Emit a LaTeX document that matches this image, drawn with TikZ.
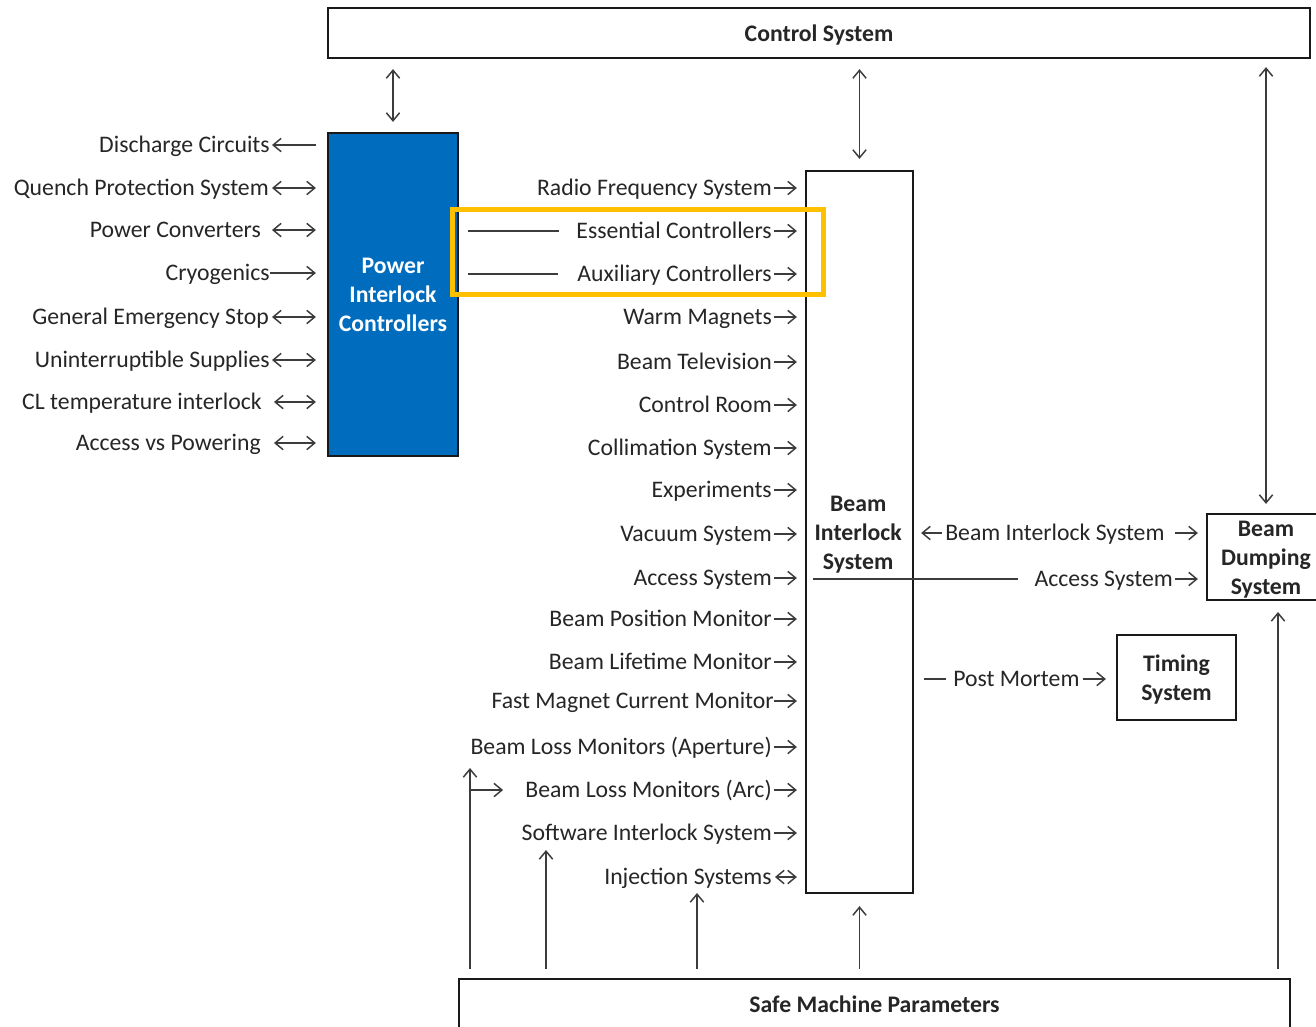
\documentclass[tikz,border=0pt]{standalone}
\usepackage{fontspec}
\setmainfont{Carlito}
\usetikzlibrary{arrows.meta}
\definecolor{ink}{RGB}{38,38,38}
\definecolor{wire}{RGB}{60,60,60}
\definecolor{boxline}{RGB}{25,25,25}
\definecolor{picblue}{RGB}{0,108,190}
\definecolor{hl}{RGB}{255,192,0}
\begin{document}
\begin{tikzpicture}[x=0.75pt,y=-0.75pt,
  font=\fontsize{17.8}{21.75}\selectfont,
  >={Straight Barb[length=6pt,width=10pt]},
  lbl/.style={anchor=east,inner sep=0pt,text height=12pt,text depth=1.5pt,text=ink},
  lblw/.style={lbl,anchor=west},
  conn/.style={draw=wire,line width=1.1pt},
  box/.style={draw=boxline,line width=1.7pt,inner sep=0pt},
  boxtext/.style={inner sep=0pt,align=center,font=\fontsize{17.8}{21.75}\selectfont\bfseries,text=ink}]
\clip (0,0) rectangle (1316,1026);
\fill[white] (0,0) rectangle (1316,1026);

% boxes
\node[box,minimum width=736.5pt,minimum height=37.5pt] (cs) at (819,33) {};
\node[boxtext] (cst) at ([yshift=-1.5pt]cs.center) {Control System};
\node[box,fill=picblue,minimum width=97.5pt,minimum height=242.25pt] (pic) at (393,294.5) {};
\node[boxtext,text=white] (pict) at (pic.center) {Power\\Interlock\\Controllers};
\node[box,minimum width=80.25pt,minimum height=541.5pt] (bis) at (859.5,532) {};
\node[boxtext] (bist) at ([xshift=-1pt,yshift=-2.25pt]bis.center) {Beam\\Interlock\\System};
\node[box,minimum width=88.5pt,minimum height=64.5pt] (bds) at (1266,557) {};
\node[boxtext] (bdst) at ([yshift=-2.25pt]bds.center) {Beam\\Dumping\\System};
\node[box,minimum width=89.25pt,minimum height=63.75pt] (ts) at (1176.5,677.5) {};
\node[boxtext] (tst) at ([yshift=-1.5pt]ts.center) {Timing\\System};
\node[box,minimum width=623.25pt,minimum height=37.5pt] (smp) at (874.5,1004) {};
\node[boxtext] (smpt) at (smp.center) {Safe Machine Parameters};

% control system links
\draw[conn,<->,shorten <=7.5pt,shorten >=7.5pt] (cs.south -| pic.north) -- (pic.north);
\draw[conn,<->,shorten <=7.5pt,shorten >=8.25pt] (cs.south -| bis.north) -- (bis.north);
\draw[conn,<->,shorten <=6pt,shorten >=6.75pt] (cs.south -| bds.north) -- (bds.north);

% left labels (power interlock)
\node[lbl] (dc) at (270,145) {Discharge Circuits};
\node[lbl] (qps) at (269,188) {Quench Protection System};
\node[lbl] (pc) at (261,230) {Power Converters};
\node[lbl] (cryo) at (270,273) {Cryogenics};
\node[lbl] (ges) at (269,317) {General Emergency Stop};
\node[lbl] (ups) at (270,360) {Uninterruptible Supplies};
\node[lbl] (clt) at (262,402) {CL temperature interlock};
\node[lbl] (avp) at (261,443) {Access vs Powering};
\draw[conn,<-,shorten <=1.5pt,shorten >=8.25pt] (dc.east) -- (dc.east -| pic.west);
\draw[conn,<->,shorten <=2.25pt,shorten >=8.25pt] (qps.east) -- (qps.east -| pic.west);
\draw[conn,<->,shorten <=8.25pt,shorten >=8.25pt] (pc.east) -- (pc.east -| pic.west);
\draw[conn,->,shorten >=8.25pt] (cryo.east) -- (cryo.east -| pic.west);
\draw[conn,<->,shorten <=2.25pt,shorten >=8.25pt] (ges.east) -- (ges.east -| pic.west);
\draw[conn,<->,shorten <=1.5pt,shorten >=8.25pt] (ups.east) -- (ups.east -| pic.west);
\draw[conn,<->,shorten <=9pt,shorten >=8.25pt] (clt.east) -- (clt.east -| pic.west);
\draw[conn,<->,shorten <=9.75pt,shorten >=8.25pt] (avp.east) -- (avp.east -| pic.west);

% middle labels (beam interlock inputs)
\node[lbl] (rf) at (772,188) {Radio Frequency System};
\node[lbl] (ec) at (772,231) {Essential Controllers};
\node[lbl] (ac) at (772,274) {Auxiliary Controllers};
\node[lbl] (wm) at (772,317) {Warm Magnets};
\node[lbl] (btv) at (772,362) {Beam Television};
\node[lbl] (cr) at (772,405) {Control Room};
\node[lbl] (col) at (772,448) {Collimation System};
\node[lbl] (exp) at (772,490) {Experiments};
\node[lbl] (vac) at (772,534) {Vacuum System};
\node[lbl] (acc) at (772,578) {Access System};
\node[lbl] (bpm) at (772,619) {Beam Position Monitor};
\node[lbl] (blt) at (772,662) {Beam Lifetime Monitor};
\node[lbl] (fmc) at (774,701) {Fast Magnet Current Monitor};
\node[lbl] (blmap) at (772,747) {Beam Loss Monitors (Aperture)};
\node[lbl] (blmarc) at (772,790) {Beam Loss Monitors (Arc)};
\node[lbl] (sis) at (772,833) {Software Interlock System};
\node[lbl] (inj) at (772,877) {Injection Systems};
\foreach \n in {rf,ec,ac,wm,btv,cr,col,exp,vac,acc,bpm,blt,blmap,blmarc,sis}
  \draw[conn,->,shorten <=1.5pt,shorten >=6pt] (\n.east) -- (\n.east -| bis.west);
\draw[conn,->,shorten <=0pt,shorten >=6pt] (fmc.east) -- (fmc.east -| bis.west);
\draw[conn,<->,shorten <=2.25pt,shorten >=6pt] (inj.east) -- (inj.east -| bis.west);

% controller feed lines and highlight
\coordinate (ecl) at (468,231);
\coordinate (acl) at (468,274);
\draw[conn,shorten >=12.75pt] (ecl) -- (ec.west);
\draw[conn,shorten >=14.25pt] (acl) -- (ac.west);
\draw[draw=hl,line width=3.75pt] (452,209) rectangle (823,294);

% right side of beam interlock system
\node[lblw] (bisr) at (945,533) {Beam Interlock System};
\draw[conn,->,shorten <=2.25pt,shorten >=5.25pt] (bisr.west) -- (bisr.west -| bis.east);
\draw[conn,->,shorten <=7.5pt,shorten >=6pt] (bisr.east) -- (bisr.east -| bds.west);
\node[lbl] (accr) at (1173,579) {Access System};
\coordinate (accl) at (813,579);
\draw[conn,shorten >=12pt] (accl) -- (accr.west);
\draw[conn,->,shorten <=1.5pt,shorten >=6pt] (accr.east) -- (accr.east -| bds.west);
\node[lblw] (pm) at (953,679) {Post Mortem};
\coordinate (pml) at (924,679);
\draw[conn,shorten >=5.25pt] (pml) -- (pm.west);
\draw[conn,->,shorten <=2.25pt,shorten >=7.5pt] (pm.east) -- (pm.east -| ts.west);

% safe machine parameters distribution
\coordinate (sa) at (470,768);
\coordinate (sbr) at (470,790);
\coordinate (sb) at (546,850);
\coordinate (sc) at (697,893);
\coordinate (sd) at (1278,612);
\draw[conn,->,shorten <=6.75pt] (smp.north -| sa) -- (sa);
\draw[conn,->,shorten >=16.5pt] (sbr) -- (blmarc.west);
\draw[conn,->,shorten <=6.75pt] (smp.north -| sb) -- (sb);
\draw[conn,->,shorten <=6.75pt] (smp.north -| sc) -- (sc);
\draw[conn,->,shorten <=6.75pt,shorten >=9pt] (smp.north -| bis.south) -- (bis.south);
\draw[conn,->,shorten <=6.75pt] (smp.north -| sd) -- (sd);
\end{tikzpicture}
\end{document}
